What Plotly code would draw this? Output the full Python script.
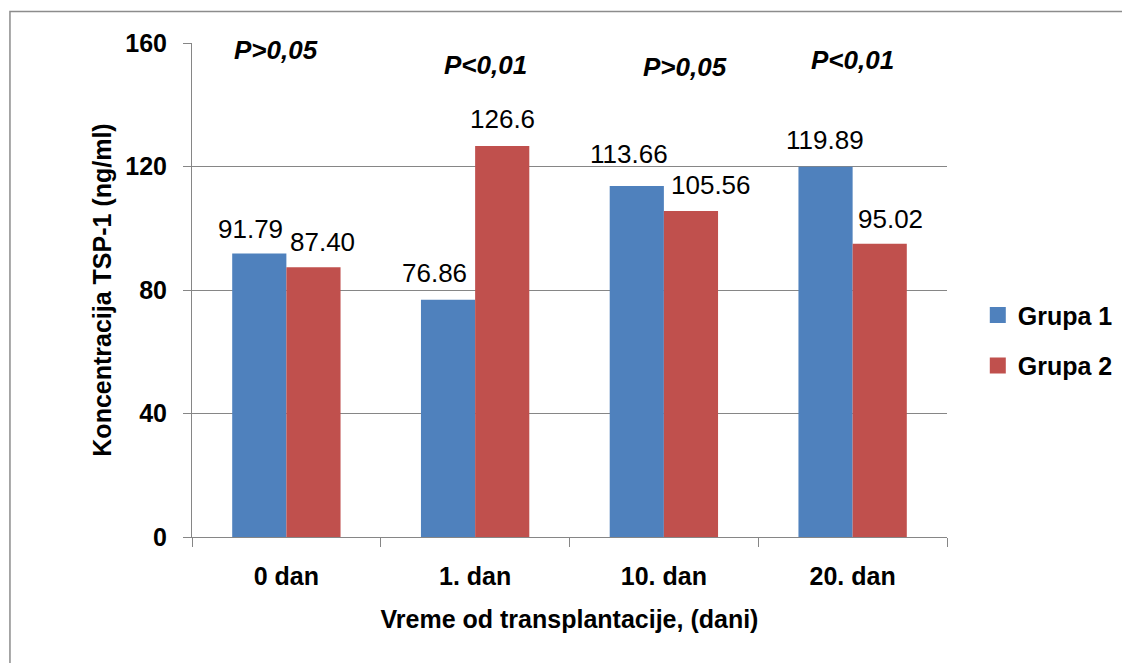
import plotly.graph_objects as go

categories = ["0 dan", "1. dan", "10. dan", "20. dan"]
grupa1 = [91.79, 76.86, 113.66, 119.89]
grupa2 = [87.40, 126.6, 105.56, 95.02]
labels1 = ["91.79", "76.86", "113.66", "119.89"]
labels2 = ["87.40", "126.6", "105.56", "95.02"]
p_texts = ["P>0,05", "P<0,01", "P>0,05", "P<0,01"]

# styling / placement helpers (pixels)
label1_dx = [-9, -13, -8, 0]
label2_dx = [9, 0, 20, 11]
label1_dy = [8, 10, 15, 10]
label2_dy = [8, 10, 9, 8]
p_dx = [-10, 10, 21, 0]
p_y = [157.6, 153.0, 152.1, 154.6]

BLUE = "#4F81BD"
RED = "#C0504D"
GRID = "#868686"
FONT = "Liberation Sans, Arial, sans-serif"

# page body has an 8px margin, so the figure is 8px smaller than the window
W, H = 1122, 655
L, R, T, B = 184, 178, 34.5, 126
pw, ph = W - L - R, H - T - B

fig = go.Figure()
fig.add_trace(go.Bar(x=categories, y=grupa1, name="Grupa 1", marker=dict(color=BLUE, line=dict(width=0)),
                     showlegend=False))
fig.add_trace(go.Bar(x=categories, y=grupa2, name="Grupa 2", marker=dict(color=RED, line=dict(width=0)),
                     showlegend=False))
# legend entries (16px square keys, as in the original)
fig.add_trace(go.Scatter(x=[None], y=[None], mode="markers", name="Grupa 1", legendgroup="g1",
                         marker=dict(symbol="square", size=16, color=BLUE, line=dict(width=0)),
                         hoverinfo="skip"))
fig.add_trace(go.Scatter(x=[None], y=[None], mode="markers", name="Grupa 2", legendgroup="g2",
                         marker=dict(symbol="square", size=16, color=RED, line=dict(width=0)),
                         hoverinfo="skip"))

half = pw / 4 * (1 - 0.426) / 4
ann = []
for i, c in enumerate(categories):
    ann.append(dict(x=c, y=grupa1[i], xref="x", yref="y", text=labels1[i], showarrow=False,
                    xshift=-half + label1_dx[i], yshift=label1_dy[i], yanchor="bottom",
                    font=dict(family=FONT, size=26, color="#000")))
    ann.append(dict(x=c, y=grupa2[i], xref="x", yref="y", text=labels2[i], showarrow=False,
                    xshift=half + label2_dx[i], yshift=label2_dy[i], yanchor="bottom",
                    font=dict(family=FONT, size=26, color="#000")))
    ann.append(dict(x=c, y=p_y[i], xref="x", yref="y", text="<b><i>" + p_texts[i] + "</i></b>",
                    showarrow=False, xshift=p_dx[i], yanchor="middle",
                    font=dict(family=FONT, size=26, color="#000")))

def px_x(p):
    return (p - L) / pw

def px_y(p):
    return (T + ph - p) / ph

fig.update_layout(
    width=W, height=H,
    margin=dict(l=L, r=R, t=T, b=B),
    paper_bgcolor="white", plot_bgcolor="white",
    barmode="group", bargap=0.426, bargroupgap=0,
    font=dict(family=FONT, size=25, color="#000"),
    annotations=ann,
    showlegend=True,
    legend=dict(x=px_x(975), y=px_y(332), xanchor="left", yanchor="middle",
                font=dict(family=FONT, size=25, color="#000", weight="bold"),
                tracegroupgap=15, bgcolor="rgba(0,0,0,0)"),
    shapes=[dict(type="rect", xref="paper", yref="paper",
                 x0=px_x(0.75), x1=px_x(1160), y0=px_y(690), y1=px_y(3),
                 line=dict(color="#8c8c8c", width=1.5), fillcolor="rgba(0,0,0,0)", layer="below")],
)
fig.update_xaxes(
    showline=True, linecolor=GRID, linewidth=1,
    ticks="outside", tickson="boundaries", ticklen=9, tickcolor=GRID, tickwidth=1,
    tickfont=dict(family=FONT, size=25, color="#000", weight="bold"),
    ticklabelstandoff=17,
    title=dict(text="<b>Vreme od transplantacije, (dani)</b>", font=dict(family=FONT, size=25, color="#000"), standoff=21),
    showgrid=False,
)
fig.update_yaxes(
    range=[0, 160], dtick=40, tick0=0,
    showline=True, linecolor=GRID, linewidth=1,
    ticks="outside", ticklen=8, tickcolor=GRID, tickwidth=1,
    tickfont=dict(family=FONT, size=25, color="#000", weight="bold"),
    ticklabelstandoff=11,
    showgrid=True, gridcolor=GRID, gridwidth=1,
    zeroline=False,
    title=dict(text="<b>Koncentracija TSP-1 (ng/ml)</b>", font=dict(family=FONT, size=25, color="#000"), standoff=6),
)

fig.write_html("out.html")
